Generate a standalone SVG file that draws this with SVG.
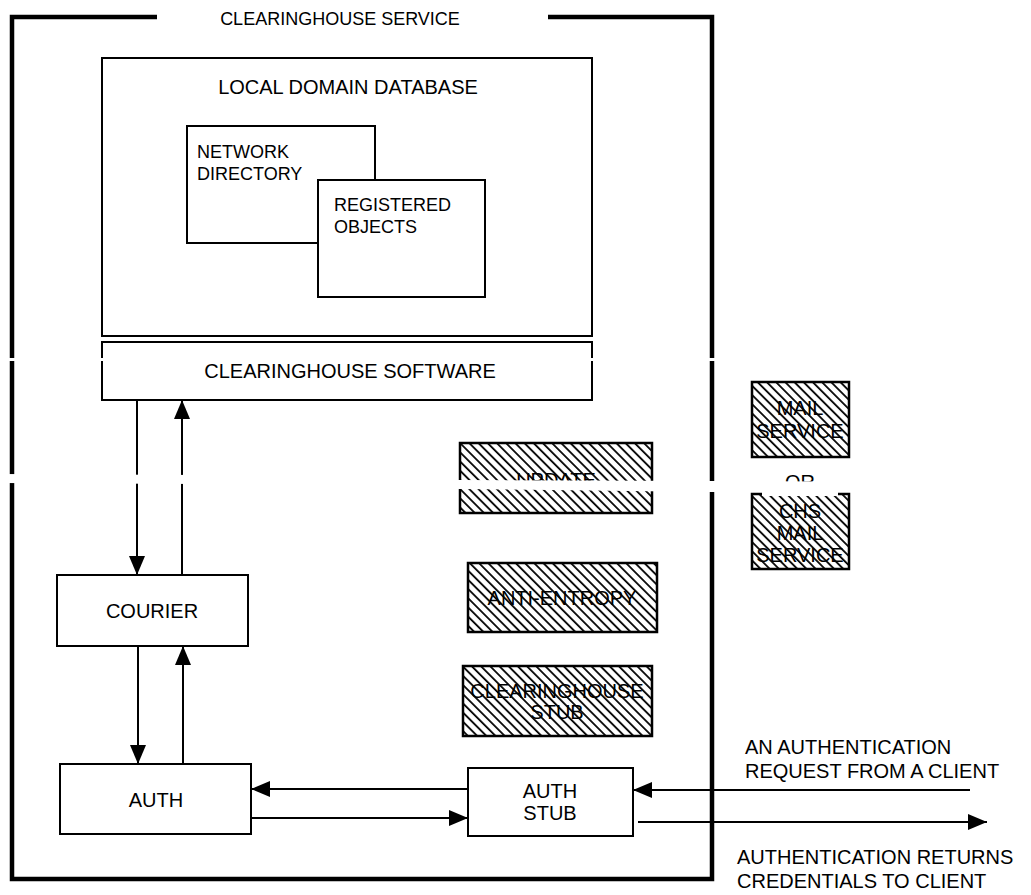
<svg xmlns="http://www.w3.org/2000/svg" width="1031" height="895" viewBox="0 0 1031 895">
  <style>
    text { font-family: "Liberation Sans", Arial, sans-serif; font-size: 20px; fill: #000; }
    .mid { text-anchor: middle; }
    .small { font-size: 18px; }
    .box { fill: #fff; stroke: #000; stroke-width: 2; }
    .hatch { fill: url(#diag); stroke: #000; stroke-width: 2.5; }
    .frame { fill: none; stroke: #000; stroke-width: 4.5; }
    .wire { fill: none; stroke: #000; stroke-width: 2; }
  </style>
  <defs>
    <pattern id="diag" width="6.5" height="6.5" patternUnits="userSpaceOnUse" patternTransform="rotate(45)">
      <rect width="6.5" height="6.5" fill="#fff"/>
      <line x1="0" y1="1" x2="6.5" y2="1" stroke="#000" stroke-width="1.8"/>
    </pattern>
    <marker id="arrow" viewBox="0 0 19 16" refX="19" refY="8" markerWidth="19" markerHeight="16" markerUnits="userSpaceOnUse" orient="auto">
      <path d="M0,0 L19,8 L0,16 Z" fill="#000"/>
    </marker>
  </defs>

  <!-- outer clearinghouse service frame, open at the top for its title -->
  <g id="clearinghouse-service">
    <path class="frame" d="M157,17 H12 V879 H712 V17 H548"/>
    <text class="mid small" x="340" y="25">CLEARINGHOUSE SERVICE</text>
  </g>

  <g id="local-domain-database">
    <rect class="box" x="102" y="58" width="490" height="278"/>
    <text class="mid" x="348" y="94">LOCAL DOMAIN DATABASE</text>
  </g>

  <g id="network-directory">
    <rect class="box" x="187" y="126" width="188" height="117"/>
    <text class="small" x="197" y="158">NETWORK</text>
    <text class="small" x="197" y="180">DIRECTORY</text>
  </g>

  <g id="registered-objects">
    <rect class="box" x="318" y="180" width="167" height="117"/>
    <text class="small" x="334" y="211">REGISTERED</text>
    <text class="small" x="334" y="233">OBJECTS</text>
  </g>

  <g id="clearinghouse-software">
    <rect class="box" x="102" y="342" width="490" height="58"/>
    <text class="mid" x="350" y="378">CLEARINGHOUSE SOFTWARE</text>
  </g>

  <g id="courier">
    <rect class="box" x="57" y="575" width="191" height="71"/>
    <text class="mid" x="152" y="618">COURIER</text>
  </g>

  <g id="auth">
    <rect class="box" x="60" y="764" width="191" height="70"/>
    <text class="mid" x="156" y="807">AUTH</text>
  </g>

  <g id="update">
    <rect class="hatch" x="460" y="443" width="192" height="70"/>
    <text class="mid" x="556" y="487">UPDATE</text>
  </g>

  <g id="anti-entropy">
    <rect class="hatch" x="468" y="563" width="189" height="69"/>
    <text class="mid" x="562" y="605">ANTI-ENTROPY</text>
  </g>

  <g id="clearinghouse-stub">
    <rect class="hatch" x="463" y="666" width="189" height="70"/>
    <text class="mid" x="557" y="698">CLEARINGHOUSE</text>
    <text class="mid" x="557" y="719">STUB</text>
  </g>

  <g id="auth-stub">
    <rect class="box" x="468" y="768" width="165" height="68"/>
    <text class="mid" x="550" y="798">AUTH</text>
    <text class="mid" x="550" y="820">STUB</text>
  </g>

  <g id="mail-service">
    <rect class="hatch" x="752" y="382" width="97" height="75"/>
    <text class="mid" x="800" y="415">MAIL</text>
    <text class="mid" x="800" y="438">SERVICE</text>
  </g>

  <g id="or-label">
    <text class="mid" x="800" y="489">OR</text>
  </g>

  <g id="chs-mail-service">
    <rect class="hatch" x="752" y="494" width="97" height="75"/>
    <text class="mid" x="800" y="518">CHS</text>
    <text class="mid" x="800" y="540">MAIL</text>
    <text class="mid" x="800" y="562">SERVICE</text>
  </g>

  <g id="client-labels">
    <text x="745" y="754">AN AUTHENTICATION</text>
    <text x="745" y="778">REQUEST FROM A CLIENT</text>
    <text x="737" y="864">AUTHENTICATION RETURNS</text>
    <text x="737" y="888">CREDENTIALS TO CLIENT</text>
  </g>

  <g id="connectors">
    <line class="wire" x1="137" y1="400" x2="137" y2="575" marker-end="url(#arrow)"/>
    <line class="wire" x1="182" y1="575" x2="182" y2="400" marker-end="url(#arrow)"/>
    <line class="wire" x1="138" y1="646" x2="138" y2="764" marker-end="url(#arrow)"/>
    <line class="wire" x1="183" y1="764" x2="183" y2="646" marker-end="url(#arrow)"/>
    <line class="wire" x1="468" y1="789" x2="251" y2="789" marker-end="url(#arrow)"/>
    <line class="wire" x1="251" y1="818" x2="468" y2="818" marker-end="url(#arrow)"/>
    <line class="wire" x1="970" y1="790" x2="633" y2="790" marker-end="url(#arrow)"/>
    <line class="wire" x1="638" y1="822" x2="987" y2="822" marker-end="url(#arrow)"/>
  </g>

  <!-- blank bands where the paper shows through across the drawing -->
  <g id="paper-gaps" fill="#fff">
    <polygon points="0,358 1031,358 1031,361 0,361"/>
    <polygon points="0,474 200,475 460,480 710,481 1031,482 1031,492 710,492 460,489 200,484 0,483"/>
    <rect x="762" y="491" width="76" height="5"/>
  </g>
</svg>
